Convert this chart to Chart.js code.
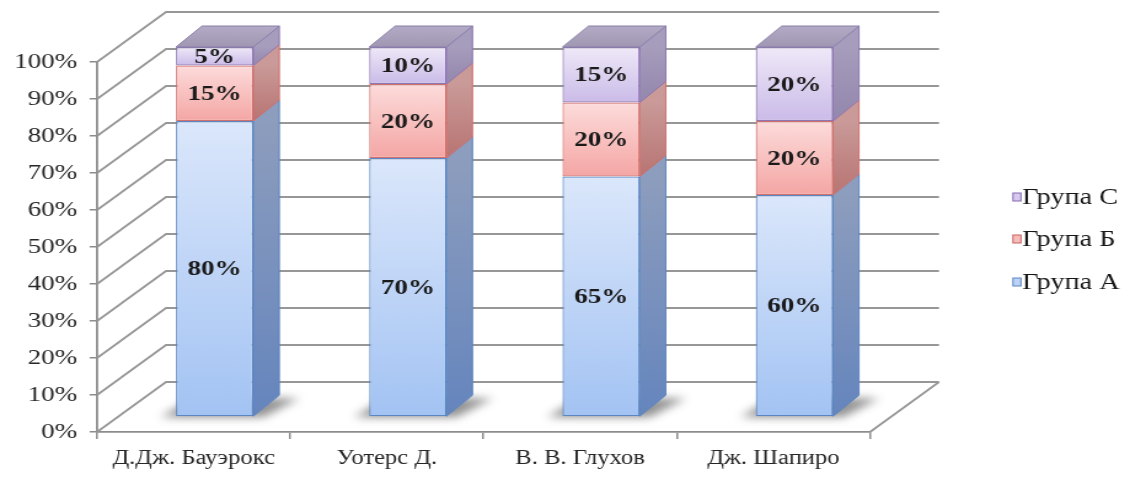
<!DOCTYPE html>
<html><head><meta charset="utf-8">
<script src="https://cdn.jsdelivr.net/npm/chart.js@4.4.0/dist/chart.umd.min.js"></script>
<style>
html,body{margin:0;padding:0;background:#fff;overflow:hidden;}
#wrap{width:1130px;height:479px;overflow:hidden;position:relative;}
canvas{display:block;transform:scaleX(1.229597);transform-origin:0 0;}
</style></head><body>
<div id="wrap"><canvas id="c" width="919" height="479" style="width:919px;height:479px"></canvas></div>
<script>
// ---- data ----
const categories = ['Д.Дж. Бауэрокс', 'Уотерс Д.', 'В. В. Глухов', 'Дж. Шапиро'];
const groupA = [80, 70, 65, 60];
const groupB = [15, 20, 20, 20];
const groupC = [5, 10, 15, 20];
const seriesNames = ['Група А', 'Група Б', 'Група С'];
const yTickValues = [0, 10, 20, 30, 40, 50, 60, 70, 80, 90, 100];

// ---- geometry / style ----
const SX = 1130 / 919;
const WALL = { dx: 69 / SX, dy: -50 };
const PLANE = { dx: 21 / SX, dy: -15 };
const DEPTH = { dx: 26 / SX, dy: -21 };
const styles = [
  { top: '#dbe7fb', bottom: '#a3c3f3', border: '#5b86c2', sideTop: '#8d9dbd', sideBottom: '#6585bd', legend: '#bcd3f6', legendBorder: '#5b86c2' },
  { top: '#fcdcdb', bottom: '#f4a6a4', border: '#d0706e', sideTop: '#c99a98', sideBottom: '#b87472', legend: '#f7bdbc', legendBorder: '#c9605e' },
  { top: '#efe9f8', bottom: '#cabbe8', border: '#8d76b4', sideTop: '#a69cbb', sideBottom: '#9387ad', legend: '#d6caee', legendBorder: '#8568b0' }
];
const seriesValues = [groupA, groupB, groupC];

Chart.defaults.font.family = '"Liberation Serif", "Times New Roman", serif';

function frontGradient(ctx) {
  const chart = ctx.chart;
  const ys = chart.scales && chart.scales.y;
  const st = styles[ctx.datasetIndex];
  if (!ys || ctx.type !== 'data' || ctx.dataIndex === undefined) return st.bottom;
  let base = 0;
  for (let k = 0; k < ctx.datasetIndex; k++) base += seriesValues[k][ctx.dataIndex];
  const topV = base + seriesValues[ctx.datasetIndex][ctx.dataIndex];
  const y0 = ys.getPixelForValue(topV), y1 = ys.getPixelForValue(base);
  if (!isFinite(y0) || !isFinite(y1) || y0 === y1) return st.bottom;
  const g = chart.ctx.createLinearGradient(0, y0, 0, y1);
  g.addColorStop(0, st.top);
  g.addColorStop(1, st.bottom);
  return g;
}

const threeD = {
  id: 'threeD',
  beforeDatasetsDraw(chart) {
    const { ctx, chartArea: a, scales: { y } } = chart;
    ctx.save();
    ctx.strokeStyle = '#979797';
    ctx.lineWidth = 1.8;
    yTickValues.forEach(v => {
      const py = y.getPixelForValue(v);
      ctx.beginPath();
      ctx.moveTo(a.left, py);
      ctx.lineTo(a.left + WALL.dx, py + WALL.dy);
      ctx.lineTo(a.right + WALL.dx, py + WALL.dy);
      ctx.stroke();
    });
    ctx.beginPath();
    ctx.moveTo(a.right, a.bottom);
    ctx.lineTo(a.right + WALL.dx, a.bottom + WALL.dy);
    ctx.stroke();
    ctx.restore();
    ctx.save();
    ctx.translate(PLANE.dx, PLANE.dy);
    ctx.filter = 'blur(4px)';
    ctx.fillStyle = 'rgba(35,35,35,0.5)';
    chart.getDatasetMeta(0).data.forEach(el => {
      const l = el.x - el.width / 2, r = el.x + el.width / 2, b = el.base;
      ctx.beginPath();
      ctx.moveTo(l - 12, b + 1);
      ctx.lineTo(r + 8, b + 1);
      ctx.lineTo(r + DEPTH.dx + 16, b + DEPTH.dy + 3);
      ctx.lineTo(l + DEPTH.dx - 8, b + DEPTH.dy + 3);
      ctx.closePath();
      ctx.fill();
    });
    ctx.restore();
    ctx.save();
    ctx.translate(PLANE.dx, PLANE.dy);
  },
  afterDatasetsDraw(chart) {
    const { ctx } = chart;
    const n = chart.data.datasets.length;
    for (let i = 0; i < n; i++) {
      const st = styles[i];
      chart.getDatasetMeta(i).data.forEach(el => {
        const l = el.x - el.width / 2, r = el.x + el.width / 2, t = el.y, b = el.base;
        const g = ctx.createLinearGradient(0, t, 0, b);
        g.addColorStop(0, st.sideTop);
        g.addColorStop(1, st.sideBottom);
        ctx.beginPath();
        ctx.moveTo(r, t);
        ctx.lineTo(r + DEPTH.dx, t + DEPTH.dy);
        ctx.lineTo(r + DEPTH.dx, b + DEPTH.dy);
        ctx.lineTo(r, b);
        ctx.closePath();
        ctx.fillStyle = g;
        ctx.fill();
        ctx.strokeStyle = st.border;
        ctx.lineWidth = 1;
        ctx.stroke();
        if (i === n - 1) {
          const tg = ctx.createLinearGradient(0, t + DEPTH.dy, 0, t);
          tg.addColorStop(0, '#b3abc5');
          tg.addColorStop(1, '#a097b3');
          ctx.beginPath();
          ctx.moveTo(l, t);
          ctx.lineTo(l + DEPTH.dx, t + DEPTH.dy);
          ctx.lineTo(r + DEPTH.dx, t + DEPTH.dy);
          ctx.lineTo(r, t);
          ctx.closePath();
          ctx.fillStyle = tg;
          ctx.fill();
          ctx.strokeStyle = '#8a7fa8';
          ctx.stroke();
        }
      });
    }
    ctx.font = 'bold 22px "Liberation Serif", serif';
    ctx.fillStyle = '#1a1a1a';
    ctx.textAlign = 'center';
    ctx.textBaseline = 'middle';
    for (let i = 0; i < n; i++) {
      chart.getDatasetMeta(i).data.forEach((el, j) => {
        ctx.fillText(chart.data.datasets[i].data[j] + '%', el.x, (el.y + el.base) / 2 + 1);
      });
    }
    ctx.restore();
  },
  afterDraw(chart) {
    const { ctx } = chart;
    const centers = [282, 239, 197];
    const sqX = 1013 / SX, txtX = 1022 / SX;
    ctx.save();
    ctx.font = '23px "Liberation Serif", serif';
    ctx.textAlign = 'left';
    ctx.textBaseline = 'middle';
    chart.data.datasets.forEach((ds, i) => {
      const cy = centers[i];
      ctx.fillStyle = styles[i].legend;
      ctx.fillRect(sqX, cy - 4, 6.5, 8);
      ctx.strokeStyle = styles[i].legendBorder;
      ctx.lineWidth = 1;
      ctx.strokeRect(sqX, cy - 4, 6.5, 8);
      ctx.fillStyle = '#161616';
      ctx.fillText(ds.label, txtX, cy + 1);
    });
    ctx.restore();
  }
};

new Chart(document.getElementById('c'), {
  type: 'bar',
  data: {
    labels: categories,
    datasets: seriesValues.map((vals, i) => ({
      label: seriesNames[i],
      data: vals,
      backgroundColor: frontGradient,
      borderColor: styles[i].border,
      borderWidth: 1.2,
      borderSkipped: false,
      categoryPercentage: 1,
      barPercentage: 0.4,
      clip: false
    }))
  },
  options: {
    responsive: false,
    animation: false,
    devicePixelRatio: 1,
    events: [],
    layout: { padding: { left: 0, right: 919 - 870 / SX, top: 62, bottom: 0 } },
    plugins: { legend: { display: false }, tooltip: { enabled: false } },
    scales: {
      x: {
        stacked: true,
        grid: { offset: true, drawOnChartArea: false, tickLength: 7, color: '#8c8c8c', lineWidth: 1.5 },
        border: { display: true, color: '#8c8c8c', width: 1.8 },
        ticks: { font: { size: 20 }, color: '#262626', padding: 8, maxRotation: 0, autoSkip: false },
        afterFit(s) { s.height = 47; }
      },
      y: {
        stacked: true,
        min: 0, max: 100,
        afterBuildTicks(s) { s.ticks = yTickValues.map(v => ({ value: v })); },
        grid: { drawOnChartArea: false, tickLength: 6, color: '#8c8c8c', lineWidth: 1.5 },
        border: { display: true, color: '#8c8c8c', width: 1.8 },
        ticks: { font: { size: 22 }, color: '#262626', padding: 10, callback: v => v + '%' },
        afterFit(s) { s.width = 97 / SX; }
      }
    }
  },
  plugins: [threeD]
});
</script>
</body></html>
